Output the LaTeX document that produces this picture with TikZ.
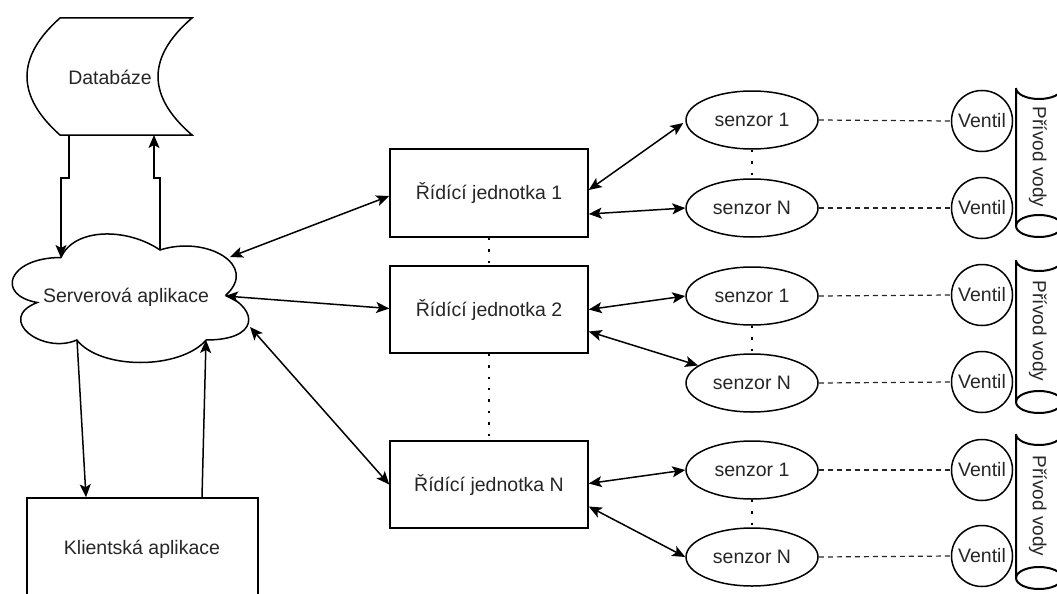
\documentclass[tikz,border=0pt]{standalone}
\usepackage{fontspec}
\setmainfont{Liberation Sans}
\usetikzlibrary{arrows.meta,shapes.geometric,calc}
\begin{document}
\begin{tikzpicture}[x=1pt,y=-1pt,
  line width=1.5pt,
  every node/.style={font=\fontsize{19.5}{23}\selectfont,text=black!85},
  boxnode/.style={draw,rectangle,line width=1.5pt,minimum width=198pt,minimum height=88pt,inner sep=0pt},
  sensnode/.style={draw,ellipse,line width=1.5pt,minimum width=132pt,minimum height=58pt,inner sep=0pt},
  ventnode/.style={draw,circle,line width=1.5pt,minimum size=61pt,inner sep=0pt},
  arr/.style={-{Stealth[length=13pt,width=11pt,inset=3pt]},line width=1.5pt},
  biarr/.style={{Stealth[length=13pt,width=11pt,inset=3pt]}-{Stealth[length=13pt,width=11pt,inset=3pt]},line width=1.5pt},
  dotline/.style={line width=2.4pt,dash pattern=on 2.4pt off 9pt},
  dashline/.style={line width=1.2pt,black!85,dash pattern=on 5pt off 4pt},
  pipetext/.style={rotate=-90,font=\fontsize{19}{22}\selectfont}
]
\useasboundingbox (0,0) rectangle (1057,594);
\clip (0,0) rectangle (1057,594);

% Database shape
\draw (60,18) -- (192,18) .. controls (146.7,57) and (146.7,96) .. (192,135)
  -- (60,135) .. controls (16,96) and (16,57) .. (60,18) -- cycle;
\node (db) at (110,77) {Databáze};

% Cloud
\draw (61,257.5) .. controls (8.2,257.5) and (-5,295) .. (37.24,302.5)
  .. controls (-5,319) and (42.52,355) .. (76.84,340)
  .. controls (100.6,370) and (179.8,370) .. (206.2,340)
  .. controls (259,340) and (259,310) .. (226,295)
  .. controls (259,265) and (206.2,235) .. (160,250)
  .. controls (127,227.5) and (74.2,227.5) .. (61,257.5) -- cycle;
\node (srv) at (126,297) {Serverová aplikace};

% Client
\node[draw,rectangle,minimum width=231pt,minimum height=102pt,inner sep=0pt] (cli) at (142.5,549) {};
\node at (142,549) {Klientská aplikace};

% Control units
\node[boxnode] (rj1) at (489,193) {Řídící jednotka 1};
\node[boxnode,minimum height=87pt] (rj2) at (489,309.5) {Řídící jednotka 2};
\node[boxnode,minimum height=87pt] (rjn) at (489,484.5) {Řídící jednotka N};

% Sensors
\node[sensnode] (s11) at (752,120) {senzor 1};
\node[sensnode] (s1n) at (752,208) {senzor N};
\node[sensnode] (s21) at (752,296) {senzor 1};
\node[sensnode] (s2n) at (752,383) {senzor N};
\node[sensnode] (s31) at (752,470) {senzor 1};
\node[sensnode] (s3n) at (752,557) {senzor N};

% Valves
\node[ventnode] (v11) at (982,121) {Ventil};
\node[ventnode] (v1n) at (982,208) {Ventil};
\node[ventnode] (v21) at (982,295) {Ventil};
\node[ventnode] (v2n) at (982,382) {Ventil};
\node[ventnode] (v31) at (982,470) {Ventil};
\node[ventnode] (v3n) at (982,556) {Ventil};

% Pipes
\foreach \t/\b/\c/\nm in {77/237/157/p1, 249/413/331/p2, 423/589/506/p3}{
  \draw[line width=2pt] (1016,\t+11) -- (1016,\b-11)
        (1016,\t+11) arc[start angle=180,end angle=0,x radius=23pt,y radius=-11pt] -- (1062,\b-11);
  \draw[line width=2pt] (1039,\b-11) ellipse[x radius=23pt,y radius=11pt];
  \node[pipetext] (\nm) at (1038,\c) {Přívod vody};
}

% Cloud attachment coordinates
\coordinate (dbOutL) at (69,135);
\coordinate (dbInR) at (154,135);
\coordinate (cTopL) at (61,258);
\coordinate (cTopR) at (160,250);
\coordinate (cR1) at (230,257);
\coordinate (cR2) at (225,296);
\coordinate (cR3) at (250,327);
\coordinate (cBotL) at (77,340);
\coordinate (cBotR) at (206,340);

% Database <-> server
\draw[arr] (dbOutL) -- ++(0,43) -| (cTopL);
\draw[arr] (cTopR) -- ++(0,-72) -| (dbInR);

% Server <-> client
\draw[arr] (cBotL) -- (cli.north west -| 86,0);
\draw[arr] (cli.north west -| 202,0) -- (cBotR);

% Server <-> control units
\draw[biarr] (cR1) -- ($(rj1.west)+(0,3)$);
\draw[biarr] (cR2) -- ($(rj2.west)+(0,-1)$);
\draw[biarr] (cR3) -- (rjn.west);

% Control units <-> sensors
\draw[biarr] ($(rj1.east)+(0,-3)$) -- ($(s11.west)+(-2,3)$);
\draw[biarr] ($(rj1.east)+(0,21)$) -- (s1n.west);
\draw[biarr] ($(rj2.east)+(0,0)$) -- (s21.west);
\draw[biarr] ($(rj2.east)+(0,22)$) -- (s2n.162);
\draw[biarr] ($(rjn.east)+(0,-1)$) -- (s31.west);
\draw[biarr] ($(rjn.east)+(0,22)$) -- (s3n.west);

% Dotted continuation lines
\draw[dotline] (rj1.south) -- (rj2.north);
\draw[dotline] (rj2.south) -- (rjn.north);
\draw[dotline] (s11.south) -- (s1n.north);
\draw[dotline] (s21.south) -- (s2n.north);
\draw[dotline] (s31.south) -- (s3n.north);

% Dashed sensor-valve lines
\draw[dashline] (s11.east) -- (v11.west);
\draw[dashline] (s1n.east) -- (v1n.west);
\draw[dashline] (s21.east) -- (v21.west);
\draw[dashline] (s2n.east) -- (v2n.west);
\draw[dashline] (s31.east) -- (v31.west);
\draw[dashline] (s3n.east) -- (v3n.west);
\end{tikzpicture}
\end{document}
